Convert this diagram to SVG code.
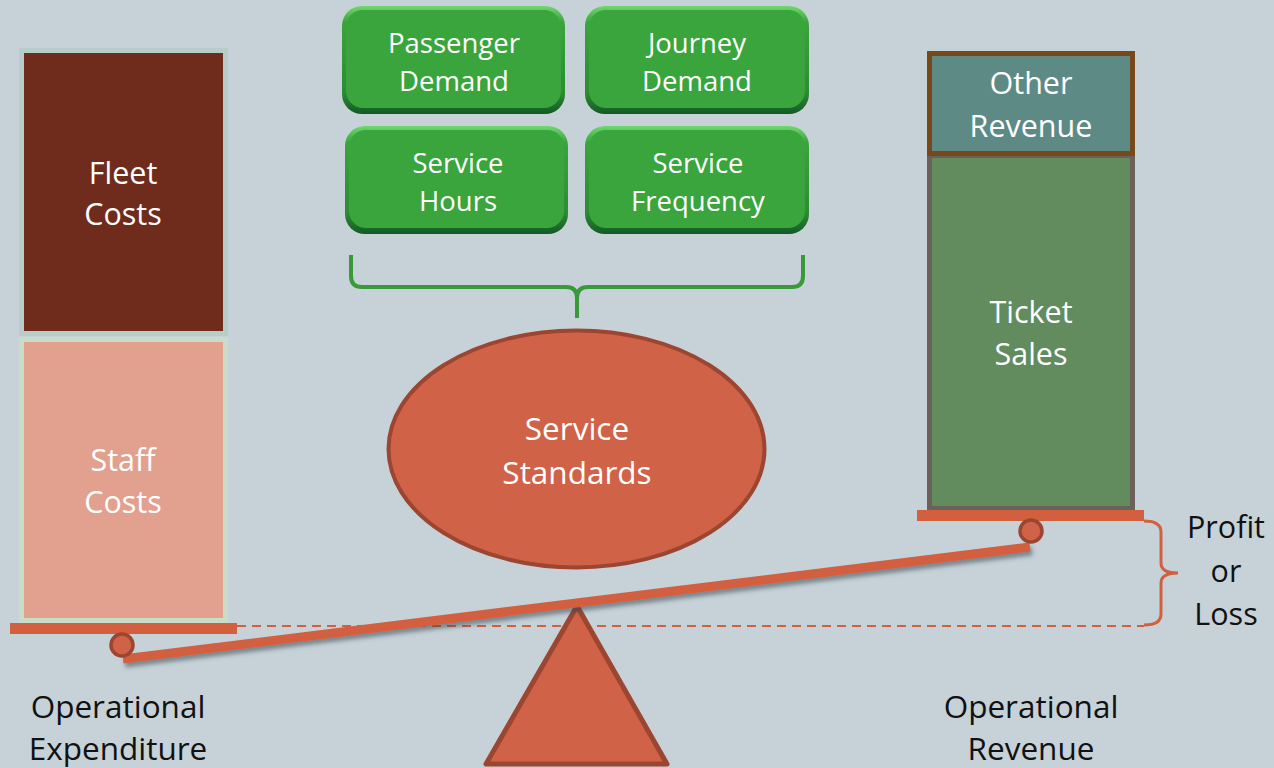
<svg xmlns="http://www.w3.org/2000/svg" width="1274" height="768" viewBox="0 0 1274 768">
<defs>
<style>
.lbl{font-family:"Open Sans","Liberation Sans",sans-serif;text-anchor:middle}
.w{fill:#ffffff}
.k{fill:#111111}
.g28{font-size:27.5px}
.s30{font-size:30.5px}
.orange{fill:#d2603f}
.pivot{fill:#d06248;stroke:#9c4632;stroke-width:3.5}
</style>
<linearGradient id="gEdge" x1="0" y1="0" x2="0" y2="1">
<stop offset="0" stop-color="#6fd86f"/>
<stop offset="0.15" stop-color="#3aa53c"/>
<stop offset="0.8" stop-color="#2c8c32"/>
<stop offset="1" stop-color="#135a26"/>
</linearGradient>
<filter id="shadow" x="-5%" y="-50%" width="110%" height="300%">
<feDropShadow dx="2" dy="4" stdDeviation="2" flood-color="#3a4a50" flood-opacity="0.55"/>
</filter>
</defs>
<rect width="1274" height="768" fill="#c6d2d8"/>

<g id="fleet-costs">
<rect x="21.5" y="50.5" width="204" height="283" fill="#6f2c1d" stroke="#b7cdca" stroke-width="5"/>
<text class="lbl w s30" x="123" y="184">Fleet</text>
<text class="lbl w s30" x="123" y="225">Costs</text>
</g>
<g id="staff-costs">
<rect x="21.5" y="339.5" width="204" height="281" fill="#e2a08e" stroke="#c8dcc8" stroke-width="5"/>
<text class="lbl w s30" x="123" y="471">Staff</text>
<text class="lbl w s30" x="123" y="513">Costs</text>
</g>

<g id="ticket-sales">
<rect x="929.5" y="155.5" width="203" height="353" fill="#628c5e" stroke="#6b605a" stroke-width="5"/>
<text class="lbl w s30" x="1031" y="323">Ticket</text>
<text class="lbl w s30" x="1031" y="365">Sales</text>
</g>
<g id="other-revenue">
<rect x="929.5" y="53.5" width="203" height="100" fill="#5e8a86" stroke="#774819" stroke-width="5"/>
<text class="lbl w s30" x="1031" y="94">Other</text>
<text class="lbl w s30" x="1031" y="137">Revenue</text>
</g>

<g id="passenger-demand">
<rect x="342" y="6" width="223" height="108" rx="20" fill="url(#gEdge)"/>
<rect x="346" y="10" width="215" height="98" rx="17" fill="#3aa53c"/>
<text class="lbl w g28" x="454" y="53">Passenger</text>
<text class="lbl w g28" x="454" y="91">Demand</text>
</g>
<g id="journey-demand">
<rect x="585" y="6" width="224" height="108" rx="20" fill="url(#gEdge)"/>
<rect x="589" y="10" width="216" height="98" rx="17" fill="#3aa53c"/>
<text class="lbl w g28" x="697" y="53">Journey</text>
<text class="lbl w g28" x="697" y="91">Demand</text>
</g>
<g id="service-hours">
<rect x="345" y="126" width="223" height="108" rx="20" fill="url(#gEdge)"/>
<rect x="349" y="130" width="215" height="98" rx="17" fill="#3aa53c"/>
<text class="lbl w g28" x="458" y="173">Service</text>
<text class="lbl w g28" x="458" y="211">Hours</text>
</g>
<g id="service-frequency">
<rect x="585" y="126" width="224" height="108" rx="20" fill="url(#gEdge)"/>
<rect x="589" y="130" width="216" height="98" rx="17" fill="#3aa53c"/>
<text class="lbl w g28" x="698" y="173">Service</text>
<text class="lbl w g28" x="698" y="211">Frequency</text>
</g>

<g id="service-standards">
<ellipse cx="576.5" cy="449" rx="188" ry="118.5" fill="#d06248" stroke="#9c4632" stroke-width="4"/>
<text class="lbl w s30" x="577" y="440" style="font-size:31.5px">Service</text>
<text class="lbl w s30" x="577" y="484" style="font-size:31.5px">Standards</text>
</g>

<g id="connectors" fill="none">
<path d="M351,255 L351,276 Q351,287 362,287 L566,287 Q577,287 577,298 L577,318 M577,298 Q577,287 588,287 L792,287 Q803,287 803,276 L803,255" stroke="#3a9a3a" stroke-width="4"/>
<line x1="237" y1="626" x2="1144" y2="626" stroke="#d2603f" stroke-width="2" stroke-dasharray="9 6"/>
<path d="M1144,521 Q1161,521 1161,532 L1161,563 Q1161,573 1178,573 Q1161,573 1161,583 L1161,614 Q1161,625 1144,625" stroke="#d2603f" stroke-width="3"/>
</g>

<g id="balance">
<polygon points="577,606 486,764 667,764" fill="#d06248" stroke="#9c4632" stroke-width="5" stroke-linejoin="round"/>
<line x1="123" y1="659" x2="1030" y2="547" stroke="#d2603f" stroke-width="9" filter="url(#shadow)"/>
<rect x="10" y="623" width="227" height="11" class="orange"/>
<rect x="917" y="510" width="227" height="11" class="orange"/>
<circle cx="122" cy="645" r="11" class="pivot"/>
<circle cx="1031" cy="531" r="11" class="pivot"/>
</g>

<g id="labels">
<text class="lbl k s30" x="118" y="718" style="font-size:31.5px">Operational</text>
<text class="lbl k s30" x="118" y="760" style="font-size:31.5px">Expenditure</text>
<text class="lbl k s30" x="1031" y="718" style="font-size:31.5px">Operational</text>
<text class="lbl k s30" x="1031" y="760" style="font-size:31.5px">Revenue</text>
<text class="lbl k s30" x="1226" y="538">Profit</text>
<text class="lbl k s30" x="1226" y="582">or</text>
<text class="lbl k s30" x="1226" y="625">Loss</text>
</g>
</svg>
